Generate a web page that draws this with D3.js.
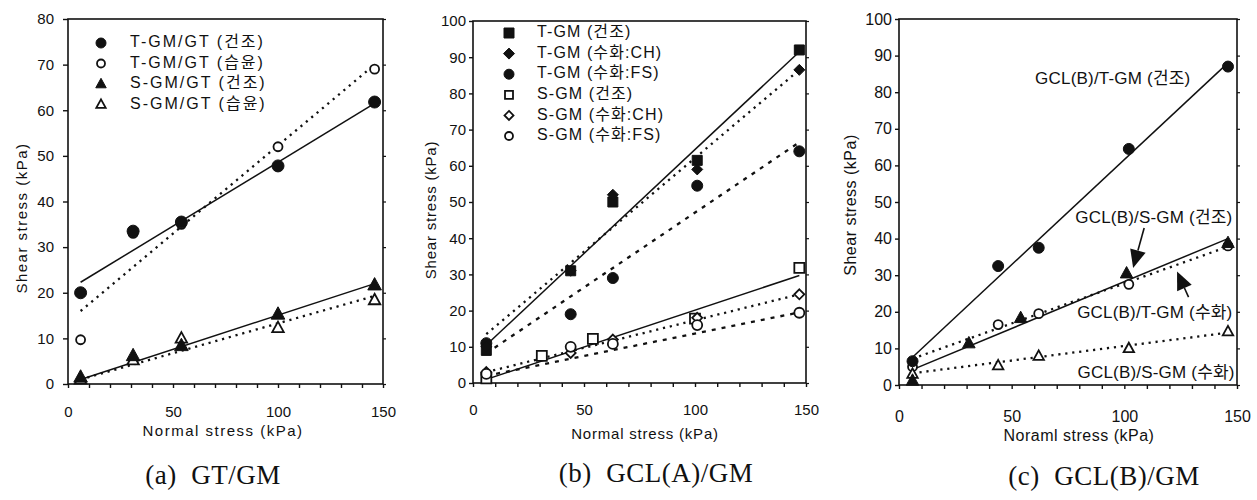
<!DOCTYPE html>
<html><head><meta charset="utf-8">
<script src="https://cdn.jsdelivr.net/npm/d3@7/dist/d3.min.js"></script>
<style>
body{margin:0;background:#fff;}
svg{display:block;}
text{fill:#111;}
</style></head>
<body><svg id="c" width="1257" height="500"></svg>
<script>
// ---------------- DATA ----------------
// Panel (a) GT/GM
const xA = [6, 31, 54, 100, 146];
const aTdry = [20, 33.5, 35.5, 47.8, 61.8];
const aTwet = [9.7, 33, 35, 52, 69];
const aSdry = [1.5, 6.2, 8.4, 15.3, 21.7];
const aSwet = [1, 5.2, 10, 12.3, 18.4];
const aFitX = [6, 146];
const aTdryFit = [22.3, 61.5];
const aTwetFit = [16, 70];
const aSdryFit = [1, 22];
const aSwetFit = [1, 19.3];
const aLegend = ["T-GM/GT (건조)", "T-GM/GT (습윤)", "S-GM/GT (건조)", "S-GM/GT (습윤)"];

// Panel (b) GCL(A)/GM
const xB = [6, 44, 63, 101, 147];
const xB2 = [6, 31, 54, 100, 147];
const bTdry = [9, 31, 50, 61.5, 92];
const bTch = [10, 31, 52, 59, 86.5];
const bTfs = [11, 19, 29, 54.5, 64];
const bSdry = [1.3, 7.5, 12.2, 17.8, 31.8];
const bSch = [3, 8.3, 12, 18, 24.5];
const bSfs = [2.5, 10, 10.8, 16, 19.4];
const bFitX = [6, 147];
const bTdryFit = [10.5, 91.5];
const bTchFit = [13.5, 86.5];
const bTfsFit = [8.2, 66.5];
const bSdryFit = [1, 29.7];
const bSchFit = [3, 24.5];
const bSfsFit = [2, 19.5];
const bLegend = ["T-GM (건조)", "T-GM (수화:CH)", "T-GM (수화:FS)", "S-GM (건조)", "S-GM (수화:CH)", "S-GM (수화:FS)"];

// Panel (c) GCL(B)/GM
const xC = [6, 44, 62, 102, 146];
const xC2 = [6, 31, 54, 101, 146];
const cTdry = [6.5, 32.5, 37.5, 64.5, 87];
const cTwet = [5, 16.5, 19.5, 27.5, 38];
const cSdry = [1.2, 11.4, 18.3, 30.5, 38.8];
const cSwet = [3, 5.3, 7.9, 10, 14.6];
const cFitX = [6, 146];
const cTdryFit = [7.6, 88];
const cSdryFit = [4.2, 40];
const cTwetFit = [7.2, 37.8];
const cSwetFit = [3.2, 14.3];
const cLabels = ["GCL(B)/T-GM (건조)", "GCL(B)/S-GM (건조)", "GCL(B)/T-GM (수화)", "GCL(B)/S-GM (수화)"];

const xTicks = d3.range(0, 151, 10);
const xLabelTicks = [0, 50, 100, 150];
const captions = ["(a)  GT/GM", "(b)  GCL(A)/GM", "(c)  GCL(B)/GM"];
const yTitle = "Shear stress (kPa)";
const xTitles = ["Normal stress (kPa)", "Normal stress (kPa)", "Noraml stress (kPa)"];

// ---------------- DRAW ----------------
const svg = d3.select("#c");
const SANS = "'Liberation Sans', Arial, 'Noto Sans CJK KR', sans-serif";
const SERIF = "'Liberation Serif', 'Times New Roman', serif";

function markerPath(type, s) {
  const h = s / 2;
  switch (type) {
    case "circle": return d3.symbol(d3.symbolCircle, Math.PI * h * h)();
    case "square": return `M${-h},${-h}H${h}V${h}H${-h}Z`;
    case "diamond": return `M0,${-h}L${h},0L0,${h}L${-h},0Z`;
    case "triangle": { const t = s * 0.95; return `M0,${-t*0.6}L${t*0.55},${t*0.4}L${-t*0.55},${t*0.4}Z`; }
  }
}
function drawMarker(g, type, filled, s, cx, cy) {
  g.append("path").attr("d", markerPath(type, s))
    .attr("transform", `translate(${cx},${cy})`)
    .attr("fill", filled ? "#111" : "#fff")
    .attr("stroke", "#111").attr("stroke-width", filled ? 1 : 1.8);
}
const dashes = { solid: null, dotted: "2.2,4.8", dashed: "4,6" };

function panel(cfg) {
  const g = svg.append("g");
  const x = d3.scaleLinear().domain([0, 150]).range([cfg.l, cfg.r]);
  const y = d3.scaleLinear().domain([0, cfg.ymax]).range([cfg.b, cfg.t]);

  g.append("rect").attr("x", cfg.l).attr("y", cfg.t).attr("width", cfg.r - cfg.l).attr("height", cfg.b - cfg.t)
    .attr("fill", "none").attr("stroke", "#111").attr("stroke-width", 1.6);

  const ya = g.append("g").attr("transform", `translate(${cfg.l},0)`)
    .call(d3.axisLeft(y).tickValues(d3.range(0, cfg.ymax + 1, 10)).tickSize(cfg.ytick).tickPadding(cfg.ypad).tickFormat(d3.format("d")));
  ya.select(".domain").remove();
  ya.selectAll("line").attr("stroke", "#111").attr("stroke-width", 1.4);
  ya.selectAll("text").attr("font-family", SANS).attr("font-size", cfg.fs).attr("fill", "#111");
  g.append("g").attr("transform", `translate(${cfg.r},0)`)
    .call(d3.axisRight(y).tickValues(d3.range(0, cfg.ymax + 1, 10)).tickSize(3).tickFormat(""))
    .call(s => { s.select(".domain").remove(); s.selectAll("line").attr("stroke", "#111").attr("stroke-width", 1.2); });

  const xa = g.append("g").attr("transform", `translate(0,${cfg.b})`)
    .call(d3.axisBottom(x).tickValues(xTicks).tickSize(4).tickPadding(cfg.xpad)
      .tickFormat(d => xLabelTicks.includes(d) ? d : ""));
  xa.select(".domain").remove();
  xa.selectAll("line").attr("stroke", "#111").attr("stroke-width", 1.4);
  xa.selectAll("text").attr("font-family", SANS).attr("font-size", cfg.fs).attr("fill", "#111");

  g.append("text").attr("x", cfg.xtx).attr("y", cfg.xty).attr("text-anchor", "middle")
    .attr("font-family", SANS).attr("font-size", cfg.tfs).attr("letter-spacing", cfg.tls)
    .attr("dominant-baseline", "middle").text(cfg.xtitle);
  g.append("text").attr("transform", `translate(${cfg.ytx},${cfg.yty}) rotate(-90)`).attr("text-anchor", "middle")
    .attr("font-family", SANS).attr("font-size", cfg.tfs).attr("letter-spacing", cfg.tls)
    .attr("dominant-baseline", "middle").text(yTitle);
  g.append("text").attr("x", cfg.cx).attr("y", cfg.cy).attr("text-anchor", "middle")
    .attr("font-family", SERIF).attr("font-size", 27).attr("letter-spacing", 0.5)
    .attr("dominant-baseline", "middle").attr("xml:space", "preserve").style("white-space", "pre").text(cfg.caption);

  const line = d3.line().x(d => x(d[0])).y(d => y(d[1]));
  cfg.fits.forEach(f => {
    g.append("path").attr("d", line(f.xs.map((v, i) => [v, f.ys[i]])))
      .attr("fill", "none").attr("stroke", "#111")
      .attr("stroke-width", f.style === "solid" ? 1.5 : 2.3)
      .attr("stroke-dasharray", dashes[f.style]);
  });
  cfg.series.forEach(s => {
    s.xs.forEach((v, i) => drawMarker(g, s.type, s.filled, s.size, x(v), y(s.ys[i])));
  });
  return { g, x, y };
}

// Panel a
const pa = panel({
  l: 68, t: 19, r: 383, b: 384, ymax: 80, ytick: 5, ypad: 9, xpad: 18, fs: 15, tfs: 15, tls: 1.5,
  xtitle: xTitles[0], xtx: 223, xty: 432, ytx: 23, yty: 218, caption: captions[0], cx: 213, cy: 478,
  fits: [
    { xs: aFitX, ys: aTdryFit, style: "solid" },
    { xs: aFitX, ys: aTwetFit, style: "dotted" },
    { xs: aFitX, ys: aSdryFit, style: "solid" },
    { xs: aFitX, ys: aSwetFit, style: "dotted" }
  ],
  series: [
    { xs: xA, ys: aTwet, type: "circle", filled: false, size: 9 },
    { xs: xA, ys: aSwet, type: "triangle", filled: false, size: 11 },
    { xs: xA, ys: aTdry, type: "circle", filled: true, size: 12 },
    { xs: xA, ys: aSdry, type: "triangle", filled: true, size: 13 }
  ]
});
[["circle", true, 10], ["circle", false, 8], ["triangle", true, 10], ["triangle", false, 9]].forEach((m, i) => {
  const yy = 43 + i * 20.5;
  drawMarker(pa.g, m[0], m[1], m[2], 101, yy);
  pa.g.append("text").attr("x", 130).attr("y", yy).attr("dominant-baseline", "middle")
    .attr("font-family", SANS).attr("font-size", 16).attr("letter-spacing", 2).text(aLegend[i]);
});

// Panel b
const pb = panel({
  l: 473, t: 21, r: 806, b: 383, ymax: 100, ytick: 4, ypad: 3, xpad: 17, fs: 15, tfs: 15, tls: 0.8,
  xtitle: xTitles[1], xtx: 645, xty: 435, ytx: 432, yty: 210, caption: captions[1], cx: 656, cy: 476,
  fits: [
    { xs: bFitX, ys: bTdryFit, style: "solid" },
    { xs: bFitX, ys: bTchFit, style: "dotted" },
    { xs: bFitX, ys: bTfsFit, style: "dashed" },
    { xs: bFitX, ys: bSdryFit, style: "solid" },
    { xs: bFitX, ys: bSchFit, style: "dotted" },
    { xs: bFitX, ys: bSfsFit, style: "dashed" }
  ],
  series: [
    { xs: xB2, ys: bSdry, type: "square", filled: false, size: 10 },
    { xs: xB, ys: bSch, type: "diamond", filled: false, size: 10 },
    { xs: xB, ys: bSfs, type: "circle", filled: false, size: 10 },
    { xs: xB, ys: bTfs, type: "circle", filled: true, size: 11 },
    { xs: xB, ys: bTdry, type: "square", filled: true, size: 10 },
    { xs: xB, ys: bTch, type: "diamond", filled: true, size: 11 }
  ]
});
[["square", true, 10], ["diamond", true, 11], ["circle", true, 10], ["square", false, 8], ["diamond", false, 9], ["circle", false, 8]].forEach((m, i) => {
  const yy = 33 + i * 20.6;
  drawMarker(pb.g, m[0], m[1], m[2], 509, yy);
  pb.g.append("text").attr("x", 537).attr("y", yy).attr("dominant-baseline", "middle")
    .attr("font-family", SANS).attr("font-size", 16).attr("letter-spacing", 1.1).text(bLegend[i]);
});

// Panel c
const pc = panel({
  l: 899, t: 19, r: 1237, b: 385, ymax: 100, ytick: 4, ypad: 3, xpad: 22, fs: 16, tfs: 16, tls: 0.5,
  xtitle: xTitles[2], xtx: 1079, xty: 437, ytx: 852, yty: 205, caption: captions[2], cx: 1104, cy: 479,
  fits: [
    { xs: cFitX, ys: cTdryFit, style: "solid" },
    { xs: cFitX, ys: cSdryFit, style: "solid" },
    { xs: cFitX, ys: cTwetFit, style: "dotted" },
    { xs: cFitX, ys: cSwetFit, style: "dotted" }
  ],
  series: [
    { xs: xC, ys: cTwet, type: "circle", filled: false, size: 9 },
    { xs: xC, ys: cSwet, type: "triangle", filled: false, size: 10 },
    { xs: xC, ys: cTdry, type: "circle", filled: true, size: 11 },
    { xs: xC2, ys: cSdry, type: "triangle", filled: true, size: 12 }
  ]
});
const cAnn = [
  { t: cLabels[0], x: 60.4, y: 82.2, a: "start" },
  { t: cLabels[1], x: 148, y: 44.2, a: "end" },
  { t: cLabels[2], x: 148, y: 18.3, a: "end" },
  { t: cLabels[3], x: 149, y: 1.9, a: "end" }
];
cAnn.forEach(d => {
  pc.g.append("text").attr("x", pc.x(d.x)).attr("y", pc.y(d.y)).attr("text-anchor", d.a)
    .attr("font-family", SANS).attr("font-size", 17).attr("letter-spacing", 0.2).text(d.t);
});
function arrow(g, x0, y0, x1, y1) {
  const ang = Math.atan2(y1 - y0, x1 - x0);
  const L = 18, W = 8;
  const bx = x1 - L * Math.cos(ang), by = y1 - L * Math.sin(ang);
  g.append("line").attr("x1", x0).attr("y1", y0).attr("x2", bx).attr("y2", by).attr("stroke", "#111").attr("stroke-width", 1.6);
  const px = -Math.sin(ang) * W, py = Math.cos(ang) * W;
  g.append("path").attr("d", `M${x1},${y1}L${bx + px},${by + py}L${bx - px},${by - py}Z`).attr("fill", "#111");
}
arrow(pc.g, pc.x(108.8), pc.y(42.9), pc.x(103.9), pc.y(32));
arrow(pc.g, pc.x(128.5), pc.y(24), pc.x(123.4), pc.y(31));
</script></body></html>
